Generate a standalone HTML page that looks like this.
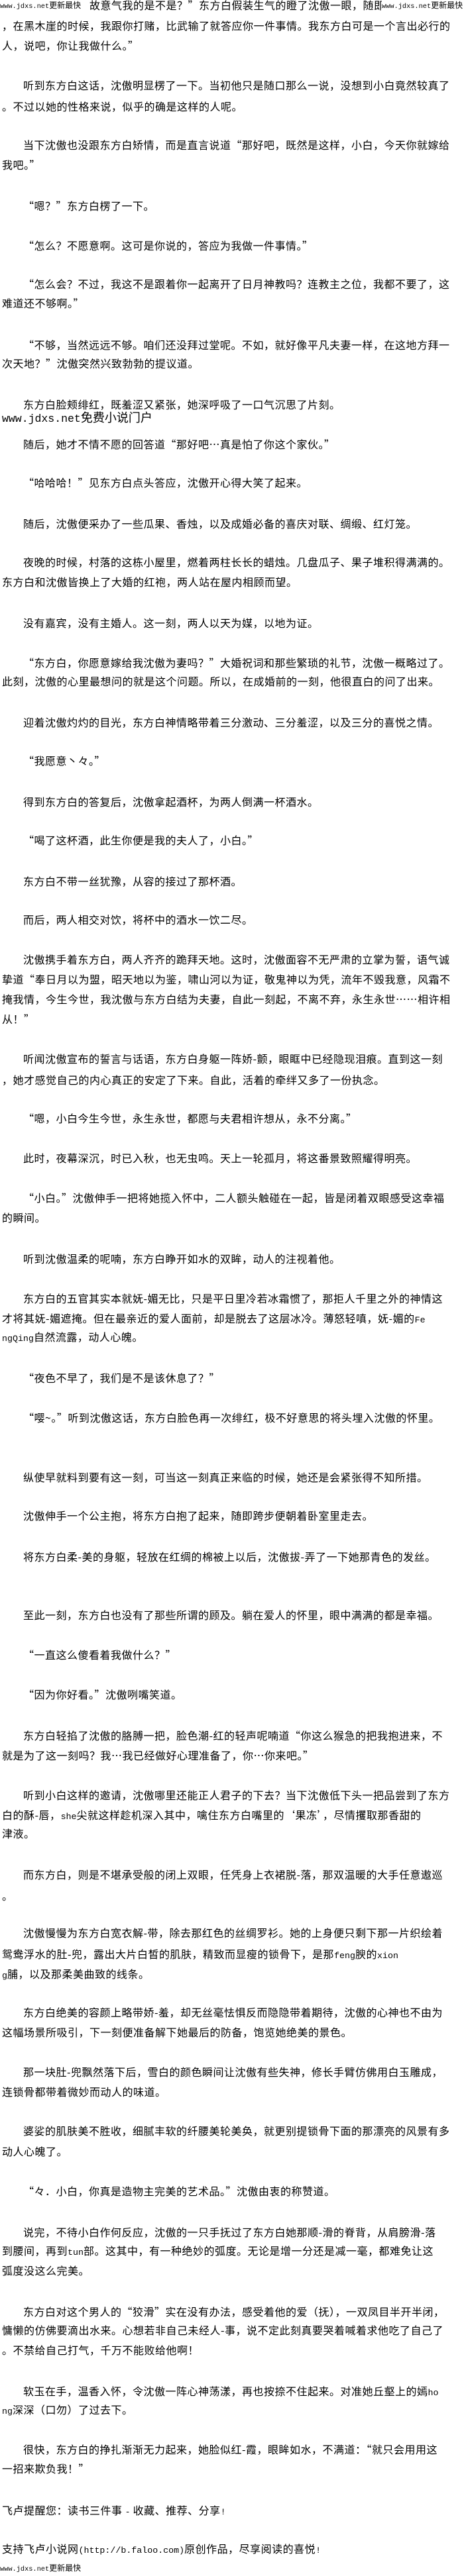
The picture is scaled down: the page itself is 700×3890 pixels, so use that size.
<!DOCTYPE html>
<html><head><meta charset="utf-8">
<style>
html,body{margin:0;padding:0;background:#fff;}
body{width:700px;height:3890px;position:relative;overflow:hidden;font-family:"Noto Sans CJK SC","Liberation Sans",sans-serif;color:#000;}
div{position:absolute;white-space:nowrap;font-size:16px;line-height:22px;height:22px;letter-spacing:0.5px;left:3px;}
.i{left:35px;}
.m{font-family:"Liberation Mono",monospace;font-size:13.3px;letter-spacing:0;}
.hd{font-size:12px;background:#fff;letter-spacing:0;line-height:16px;height:16px;}
.hd span{font-family:"Liberation Mono",monospace;font-size:10.3px;}
</style></head><body>
<div style="top:-4px;left:135px;">故意气我的是不是？”东方白假装生气的瞪了沈傲一眼，随即</div>
<div class="hd" style="top:0;left:0;width:130px;"><span>www.jdxs.net</span>更新最快</div>
<div class="hd" style="top:0;left:576px;width:124px;"><span>www.jdxs.net</span>更新最快</div>
<div style="top:27px">，在黑木崖的时候，我跟你打赌，比武输了就答应你一件事情。我东方白可是一个言出必行的</div>
<div style="top:57px">人，说吧，你让我做什么。”</div>
<div class="i" style="top:117px">听到东方白这话，沈傲明显楞了一下。当初他只是随口那么一说，没想到小白竟然较真了</div>
<div style="top:149px">。不过以她的性格来说，似乎的确是这样的人呢。</div>
<div class="i" style="top:207px">当下沈傲也没跟东方白矫情，而是直言说道“那好吧，既然是这样，小白，今天你就嫁给</div>
<div style="top:237px">我吧。”</div>
<div class="i" style="top:299px">“嗯？”东方白楞了一下。</div>
<div class="i" style="top:359px">“怎么？不愿意啊。这可是你说的，答应为我做一件事情。”</div>
<div class="i" style="top:417px">“怎么会？不过，我这不是跟着你一起离开了日月神教吗？连教主之位，我都不要了，这</div>
<div style="top:446px">难道还不够啊。”</div>
<div class="i" style="top:509px">“不够，当然远远不够。咱们还没拜过堂呢。不如，就好像平凡夫妻一样，在这地方拜一</div>
<div style="top:537px">次天地？”沈傲突然兴致勃勃的提议道。</div>
<div class="i" style="top:599px">东方白脸颊绯红，既羞涩又紧张，她深呼吸了一口气沉思了片刻。</div>
<div style="top:619px;font-size:18px;letter-spacing:0;"><span style="font-family:'Liberation Mono',monospace;font-size:16.5px;">www.jdxs.net</span>免费小说门户</div>
<div class="i" style="top:659px">随后，她才不情不愿的回答道“那好吧…真是怕了你这个家伙。”</div>
<div class="i" style="top:717px">“哈哈哈！”见东方白点头答应，沈傲开心得大笑了起来。</div>
<div class="i" style="top:779px">随后，沈傲便采办了一些瓜果、香烛，以及成婚必备的喜庆对联、绸缎、红灯笼。</div>
<div class="i" style="top:837px">夜晚的时候，村落的这栋小屋里，燃着两柱长长的蜡烛。几盘瓜子、果子堆积得满满的。</div>
<div style="top:867px">东方白和沈傲皆换上了大婚的红袍，两人站在屋内相顾而望。</div>
<div class="i" style="top:929px">没有嘉宾，没有主婚人。这一刻，两人以天为媒，以地为证。</div>
<div class="i" style="top:989px">“东方白，你愿意嫁给我沈傲为妻吗？”大婚祝词和那些繁琐的礼节，沈傲一概略过了。</div>
<div style="top:1017px">此刻，沈傲的心里最想问的就是这个问题。所以，在成婚前的一刻，他很直白的问了出来。</div>
<div class="i" style="top:1079px">迎着沈傲灼灼的目光，东方白神情略带着三分激动、三分羞涩，以及三分的喜悦之情。</div>
<div class="i" style="top:1137px">“我愿意丶々。”</div>
<div class="i" style="top:1199px">得到东方白的答复后，沈傲拿起酒杯，为两人倒满一杯酒水。</div>
<div class="i" style="top:1257px">“喝了这杯酒，此生你便是我的夫人了，小白。”</div>
<div class="i" style="top:1319px">东方白不带一丝犹豫，从容的接过了那杯酒。</div>
<div class="i" style="top:1377px">而后，两人相交对饮，将杯中的酒水一饮二尽。</div>
<div class="i" style="top:1437px">沈傲携手着东方白，两人齐齐的跪拜天地。这时，沈傲面容不无严肃的立掌为誓，语气诚</div>
<div style="top:1467px">挚道“奉日月以为盟，昭天地以为鉴，啸山河以为证，敬鬼神以为凭，流年不毁我意，风霜不</div>
<div style="top:1497px">掩我情，今生今世，我沈傲与东方白结为夫妻，自此一刻起，不离不弃，永生永世……相许相</div>
<div style="top:1527px">从！”</div>
<div class="i" style="top:1587px">听闻沈傲宣布的誓言与话语，东方白身躯一阵娇-颤，眼眶中已经隐现泪痕。直到这一刻</div>
<div style="top:1619px">，她才感觉自己的内心真正的安定了下来。自此，活着的牵绊又多了一份执念。</div>
<div class="i" style="top:1677px">“嗯，小白今生今世，永生永世，都愿与夫君相许想从，永不分离。”</div>
<div class="i" style="top:1737px">此时，夜幕深沉，时已入秋，也无虫鸣。天上一轮孤月，将这番景致照耀得明亮。</div>
<div class="i" style="top:1797px">“小白。”沈傲伸手一把将她揽入怀中，二人额头触碰在一起，皆是闭着双眼感受这幸福</div>
<div style="top:1827px">的瞬间。</div>
<div class="i" style="top:1889px">听到沈傲温柔的呢喃，东方白睁开如水的双眸，动人的注视着他。</div>
<div class="i" style="top:1949px">东方白的五官其实本就妩-媚无比，只是平日里冷若冰霜惯了，那拒人千里之外的神情这</div>
<div style="top:1979px">才将其妩-媚遮掩。但在最亲近的爱人面前，却是脱去了这层冰冷。薄怒轻嗔，妩-媚的<span class="m">Fe</span></div>
<div style="top:2007px"><span class="m">ngQing</span>自然流露，动人心魄。</div>
<div class="i" style="top:2069px">“夜色不早了，我们是不是该休息了？”</div>
<div class="i" style="top:2129px">“嘤~。”听到沈傲这话，东方白脸色再一次绯红，极不好意思的将头埋入沈傲的怀里。</div>
<div class="i" style="top:2219px">纵使早就料到要有这一刻，可当这一刻真正来临的时候，她还是会紧张得不知所措。</div>
<div class="i" style="top:2277px">沈傲伸手一个公主抱，将东方白抱了起来，随即跨步便朝着卧室里走去。</div>
<div class="i" style="top:2339px">将东方白柔-美的身躯，轻放在红绸的棉被上以后，沈傲拔-弄了一下她那青色的发丝。</div>
<div class="i" style="top:2427px">至此一刻，东方白也没有了那些所谓的顾及。躺在爱人的怀里，眼中满满的都是幸福。</div>
<div class="i" style="top:2487px">“一直这么傻看着我做什么？”</div>
<div class="i" style="top:2547px">“因为你好看。”沈傲咧嘴笑道。</div>
<div class="i" style="top:2609px">东方白轻掐了沈傲的胳膊一把，脸色潮-红的轻声呢喃道“你这么猴急的把我抱进来，不</div>
<div style="top:2639px">就是为了这一刻吗？我…我已经做好心理准备了，你…你来吧。”</div>
<div class="i" style="top:2699px">听到小白这样的邀请，沈傲哪里还能正人君子的下去？当下沈傲低下头一把品尝到了东方</div>
<div style="top:2729px">白的酥-唇，<span class="m">she</span>尖就这样趁机深入其中，噙住东方白嘴里的‘果冻’，尽情攫取那香甜的</div>
<div style="top:2757px">津液。</div>
<div class="i" style="top:2819px">而东方白，则是不堪承受般的闭上双眼，任凭身上衣裙脱-落，那双温暖的大手任意遨巡</div>
<div style="top:2851px">。</div>
<div class="i" style="top:2907px">沈傲慢慢为东方白宽衣解-带，除去那红色的丝绸罗衫。她的上身便只剩下那一片织绘着</div>
<div style="top:2939px">鸳鸯浮水的肚-兜，露出大片白皙的肌肤，精致而显瘦的锁骨下，是那<span class="m">feng</span>腴的<span class="m">xion</span></div>
<div style="top:2969px"><span class="m">g</span>脯，以及那柔美曲致的线条。</div>
<div class="i" style="top:3027px">东方白绝美的容颜上略带娇-羞，却无丝毫怯惧反而隐隐带着期待，沈傲的心神也不由为</div>
<div style="top:3057px">这幅场景所吸引，下一刻便准备解下她最后的防备，饱览她绝美的景色。</div>
<div class="i" style="top:3117px">那一块肚-兜飘然落下后，雪白的颜色瞬间让沈傲有些失神，修长手臂仿佛用白玉雕成，</div>
<div style="top:3147px">连锁骨都带着微妙而动人的味道。</div>
<div class="i" style="top:3206px">婆娑的肌肤美不胜收，细腻丰软的纤腰美轮美奂，就更别提锁骨下面的那漂亮的风景有多</div>
<div style="top:3237px">动人心魄了。</div>
<div class="i" style="top:3297px">“々．小白，你真是造物主完美的艺术品。”沈傲由衷的称赞道。</div>
<div class="i" style="top:3359px">说完，不待小白作何反应，沈傲的一只手抚过了东方白她那顺-滑的脊背，从肩膀滑-落</div>
<div style="top:3387px">到腰间，再到<span class="m">tun</span>部。这其中，有一种绝妙的弧度。无论是增一分还是减一毫，都难免让这</div>
<div style="top:3417px">弧度没这么完美。</div>
<div class="i" style="top:3479px">东方白对这个男人的“狡滑”实在没有办法，感受着他的爱（抚），一双凤目半开半闭，</div>
<div style="top:3507px">慵懒的仿佛要滴出水来。心想若非自己未经人-事，说不定此刻真要哭着喊着求他吃了自己了</div>
<div style="top:3537px">。不禁给自己打气，千万不能败给他啊！</div>
<div class="i" style="top:3599px">软玉在手，温香入怀，令沈傲一阵心神荡漾，再也按捺不住起来。对准她丘壑上的嫣<span class="m">ho</span></div>
<div style="top:3627px"><span class="m">ng</span>深深（口勿）了过去下。</div>
<div class="i" style="top:3687px">很快，东方白的挣扎渐渐无力起来，她脸似红-霞，眼眸如水，不满道：“就只会用用这</div>
<div style="top:3716px">一招来欺负我！”</div>
<div style="top:3779px">飞卢提醒您：读书三件事 <span class="m">-</span> 收藏、推荐、分享<span class="m">!</span></div>
<div style="top:3837px">支持飞卢小说网<span class="m">(http://b.faloo.com)</span>原创作品，尽享阅读的喜悦<span class="m">!</span></div>
<div class="hd" style="top:3870px;left:0;"><span>www.jdxs.net</span>更新最快</div>
</body></html>
